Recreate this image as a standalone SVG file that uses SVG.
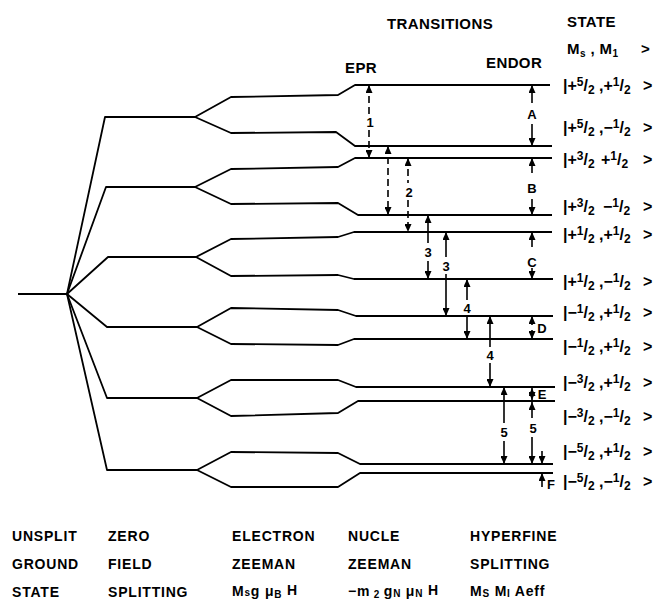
<svg xmlns="http://www.w3.org/2000/svg" width="661" height="599" viewBox="0 0 661 599">
<style>
.lv{fill:none;stroke:#000;stroke-width:1.8;stroke-linejoin:round}
.ar{stroke:#000;stroke-width:1.6;fill:none}
.ds{stroke-dasharray:7,4}
text{font-family:"Liberation Sans",Arial,sans-serif;font-weight:bold;fill:#000}
.hd{font-size:15px;letter-spacing:0.4px}
.bt{font-size:14px;letter-spacing:0.8px}
.st{font-size:16px}
.fn{font-size:12px}
.lb{font-size:13px;text-anchor:middle}
.sb{font-size:10px}
</style>
<defs>
<marker id="ah" viewBox="0 0 8 7" markerWidth="8" markerHeight="7" refX="8" refY="3.5" orient="auto-start-reverse" markerUnits="userSpaceOnUse"><path d="M0,0 L8,3.5 L0,7 z" fill="#000"/></marker>
</defs>
<rect width="661" height="599" fill="#fff"/>

<g id="level-unsplit"><path class="lv" d="M18,294 L67,294"/></g>

<g id="zfs-levels">
<g id="zfs-1"><path class="lv" d="M67,294 L105,117 L195,117"/></g>
<g id="zfs-2"><path class="lv" d="M67,294 L106,187 L195,187"/></g>
<g id="zfs-3"><path class="lv" d="M67,294 L108,257 L196,257"/></g>
<g id="zfs-4"><path class="lv" d="M67,294 L107,327 L197,327"/></g>
<g id="zfs-5"><path class="lv" d="M67,294 L107,398 L197,398"/></g>
<g id="zfs-6"><path class="lv" d="M67,294 L107,470 L197,470"/></g>
</g>

<g id="hyperfine-levels">
<g id="s-p52-p12"><path class="lv" d="M195,117 L231,97 L338,95 L355,85 L550,85"/></g>
<g id="s-p52-m12"><path class="lv" d="M195,117 L231,133 L336,132 L355,146 L552,146"/></g>
<g id="s-p32-p12"><path class="lv" d="M195,187 L231,169 L338,167 L355,158 L552,158"/></g>
<g id="s-p32-m12"><path class="lv" d="M195,187 L231,204 L338,203 L358,215 L552,215"/></g>
<g id="s-p12-p12"><path class="lv" d="M196,257 L231,239 L338,237 L354,232 L552,232"/></g>
<g id="s-p12-m12"><path class="lv" d="M196,257 L231,276 L338,275 L354,279 L553,279"/></g>
<g id="s-m12-p12"><path class="lv" d="M197,327 L231,308 L338,310 L356,316 L553,316"/></g>
<g id="s-m12-m12"><path class="lv" d="M197,327 L231,344 L338,345 L354,339 L553,339"/></g>
<g id="s-m32-p12"><path class="lv" d="M197,398 L231,380 L338,380 L356,387 L555,387"/></g>
<g id="s-m32-m12"><path class="lv" d="M197,398 L231,416 L338,413 L358,401 L555,401"/></g>
<g id="s-m52-p12"><path class="lv" d="M197,470 L231,452 L338,453 L360,464 L553,464"/></g>
<g id="s-m52-m12"><path class="lv" d="M197,470 L231,487 L338,487 L360,473 L553,473"/></g>
</g>

<g id="connectors">
<line class="ar ds" x1="369" y1="85" x2="369" y2="114" marker-start="url(#ah)"/>
<line class="ar ds" x1="369" y1="130" x2="369" y2="158" marker-end="url(#ah)"/>
<line class="ar ds" x1="388" y1="146" x2="388" y2="215" marker-start="url(#ah)" marker-end="url(#ah)"/>
<line class="ar ds" x1="408" y1="158" x2="408" y2="183" marker-start="url(#ah)"/>
<line class="ar ds" x1="408" y1="200" x2="408" y2="232" marker-end="url(#ah)"/>
<line class="ar" x1="428" y1="215" x2="428" y2="243" marker-start="url(#ah)"/>
<line class="ar" x1="428" y1="261" x2="428" y2="279" marker-end="url(#ah)"/>
<line class="ar" x1="446" y1="232" x2="446" y2="257" marker-start="url(#ah)"/>
<line class="ar" x1="446" y1="274" x2="446" y2="316" marker-end="url(#ah)"/>
<line class="ar" x1="467" y1="279" x2="467" y2="300" marker-start="url(#ah)"/>
<line class="ar" x1="467" y1="316" x2="467" y2="339" marker-end="url(#ah)"/>
<line class="ar" x1="490" y1="316" x2="490" y2="347" marker-start="url(#ah)"/>
<line class="ar" x1="490" y1="363" x2="490" y2="387" marker-end="url(#ah)"/>
<line class="ar" x1="504" y1="387" x2="504" y2="423" marker-start="url(#ah)"/>
<line class="ar" x1="504" y1="441" x2="504" y2="464" marker-end="url(#ah)"/>
<line class="ar" x1="532" y1="85" x2="532" y2="103" marker-start="url(#ah)"/>
<line class="ar" x1="532" y1="124" x2="532" y2="146" marker-end="url(#ah)"/>
<line class="ar" x1="532" y1="158" x2="532" y2="173" marker-start="url(#ah)"/>
<line class="ar" x1="532" y1="199" x2="532" y2="215" marker-end="url(#ah)"/>
<line class="ar" x1="532" y1="232" x2="532" y2="247" marker-start="url(#ah)"/>
<line class="ar" x1="532" y1="268" x2="532" y2="279" marker-end="url(#ah)"/>
<line class="ar" x1="532" y1="316" x2="532" y2="325" marker-start="url(#ah)"/>
<line class="ar" x1="532" y1="330" x2="532" y2="339" marker-end="url(#ah)"/>
<line class="ar" x1="532" y1="388" x2="532" y2="400" marker-start="url(#ah)" marker-end="url(#ah)"/>
<line class="ar" x1="532" y1="402" x2="532" y2="418" marker-start="url(#ah)"/>
<line class="ar" x1="532" y1="437" x2="532" y2="464" marker-end="url(#ah)"/>
<line class="ar" x1="542" y1="451" x2="542" y2="464" marker-end="url(#ah)"/>
<line class="ar" x1="542" y1="473" x2="542" y2="487" marker-start="url(#ah)"/>
</g>

<g id="transition-labels">
<text class="lb" x="370" y="127">1</text>
<text class="lb" x="409" y="197">2</text>
<text class="lb" x="428" y="257">3</text>
<text class="lb" x="446" y="271">3</text>
<text class="lb" x="467" y="313">4</text>
<text class="lb" x="490" y="360">4</text>
<text class="lb" x="504" y="437">5</text>
<text class="lb" x="532" y="119">A</text>
<text class="lb" x="532" y="193">B</text>
<text class="lb" x="532" y="267">C</text>
<text class="lb" x="542" y="333">D</text>
<text class="lb" x="542" y="399">E</text>
<text class="lb" x="533" y="433">5</text>
<text class="lb" x="551" y="489">F</text>
</g>

<g id="headers">
<text class="hd" x="387" y="29">TRANSITIONS</text>
<text class="hd" x="567" y="27">STATE</text>
<text class="hd" x="567" y="54">M<tspan class="sb" dy="3">s</tspan><tspan dy="-3"> , M</tspan><tspan class="sb" dy="3">1</tspan><tspan x="641" dy="-3">&gt;</tspan></text>
<text class="hd" x="345" y="73">EPR</text>
<text class="hd" x="486" y="68">ENDOR</text>
</g>

<g id="state-labels">
<text class="st" x="563" y="91">|+<tspan class="fn" dy="-5">5</tspan><tspan dy="5">/</tspan><tspan class="fn" dy="3">2</tspan><tspan x="599" dy="-3">,+</tspan><tspan class="fn" dy="-5">1</tspan><tspan dy="5">/</tspan><tspan class="fn" dy="3">2</tspan><tspan x="643" dy="-3">&gt;</tspan></text>
<text class="st" x="563" y="133">|+<tspan class="fn" dy="-5">5</tspan><tspan dy="5">/</tspan><tspan class="fn" dy="3">2</tspan><tspan x="599" dy="-3">,−</tspan><tspan class="fn" dy="-5">1</tspan><tspan dy="5">/</tspan><tspan class="fn" dy="3">2</tspan><tspan x="643" dy="-3">&gt;</tspan></text>
<text class="st" x="563" y="165">|+<tspan class="fn" dy="-5">3</tspan><tspan dy="5">/</tspan><tspan class="fn" dy="3">2</tspan><tspan x="601" dy="-3">+</tspan><tspan class="fn" dy="-5">1</tspan><tspan dy="5">/</tspan><tspan class="fn" dy="3">2</tspan><tspan x="643" dy="-3">&gt;</tspan></text>
<text class="st" x="563" y="212">|+<tspan class="fn" dy="-5">3</tspan><tspan dy="5">/</tspan><tspan class="fn" dy="3">2</tspan><tspan x="603" dy="-3">−</tspan><tspan class="fn" dy="-5">1</tspan><tspan dy="5">/</tspan><tspan class="fn" dy="3">2</tspan><tspan x="643" dy="-3">&gt;</tspan></text>
<text class="st" x="563" y="240">|+<tspan class="fn" dy="-5">1</tspan><tspan dy="5">/</tspan><tspan class="fn" dy="3">2</tspan><tspan x="599" dy="-3">,+</tspan><tspan class="fn" dy="-5">1</tspan><tspan dy="5">/</tspan><tspan class="fn" dy="3">2</tspan><tspan x="643" dy="-3">&gt;</tspan></text>
<text class="st" x="563" y="287">|+<tspan class="fn" dy="-5">1</tspan><tspan dy="5">/</tspan><tspan class="fn" dy="3">2</tspan><tspan x="599" dy="-3">,−</tspan><tspan class="fn" dy="-5">1</tspan><tspan dy="5">/</tspan><tspan class="fn" dy="3">2</tspan><tspan x="643" dy="-3">&gt;</tspan></text>
<text class="st" x="563" y="318">|−<tspan class="fn" dy="-5">1</tspan><tspan dy="5">/</tspan><tspan class="fn" dy="3">2</tspan><tspan x="599" dy="-3">,+</tspan><tspan class="fn" dy="-5">1</tspan><tspan dy="5">/</tspan><tspan class="fn" dy="3">2</tspan><tspan x="643" dy="-3">&gt;</tspan></text>
<text class="st" x="563" y="352">|−<tspan class="fn" dy="-5">1</tspan><tspan dy="5">/</tspan><tspan class="fn" dy="3">2</tspan><tspan x="599" dy="-3">,+</tspan><tspan class="fn" dy="-5">1</tspan><tspan dy="5">/</tspan><tspan class="fn" dy="3">2</tspan><tspan x="643" dy="-3">&gt;</tspan></text>
<text class="st" x="563" y="388">|−<tspan class="fn" dy="-5">3</tspan><tspan dy="5">/</tspan><tspan class="fn" dy="3">2</tspan><tspan x="599" dy="-3">,+</tspan><tspan class="fn" dy="-5">1</tspan><tspan dy="5">/</tspan><tspan class="fn" dy="3">2</tspan><tspan x="643" dy="-3">&gt;</tspan></text>
<text class="st" x="563" y="422">|−<tspan class="fn" dy="-5">3</tspan><tspan dy="5">/</tspan><tspan class="fn" dy="3">2</tspan><tspan x="599" dy="-3">,−</tspan><tspan class="fn" dy="-5">1</tspan><tspan dy="5">/</tspan><tspan class="fn" dy="3">2</tspan><tspan x="643" dy="-3">&gt;</tspan></text>
<text class="st" x="563" y="457">|−<tspan class="fn" dy="-5">5</tspan><tspan dy="5">/</tspan><tspan class="fn" dy="3">2</tspan><tspan x="599" dy="-3">,+</tspan><tspan class="fn" dy="-5">1</tspan><tspan dy="5">/</tspan><tspan class="fn" dy="3">2</tspan><tspan x="643" dy="-3">&gt;</tspan></text>
<text class="st" x="563" y="487">|−<tspan class="fn" dy="-5">5</tspan><tspan dy="5">/</tspan><tspan class="fn" dy="3">2</tspan><tspan x="599" dy="-3">,−</tspan><tspan class="fn" dy="-5">1</tspan><tspan dy="5">/</tspan><tspan class="fn" dy="3">2</tspan><tspan x="643" dy="-3">&gt;</tspan></text>
</g>

<g id="bottom-labels">
<text class="bt" x="12" y="541">UNSPLIT</text>
<text class="bt" x="12" y="569">GROUND</text>
<text class="bt" x="12" y="597">STATE</text>
<text class="bt" x="108" y="541">ZERO</text>
<text class="bt" x="108" y="569">FIELD</text>
<text class="bt" x="108" y="597">SPLITTING</text>
<text class="bt" x="232" y="541">ELECTRON</text>
<text class="bt" x="232" y="569">ZEEMAN</text>
<text class="bt" x="232" y="596">M<tspan class="sb">s</tspan>g μ<tspan class="sb" dy="2">B</tspan><tspan dy="-3"> H</tspan></text>
<text class="bt" x="348" y="541">NUCLE</text>
<text class="bt" x="348" y="569">ZEEMAN</text>
<text class="bt" x="348" y="596">−m<tspan class="sb" dy="2"> 2 </tspan><tspan dy="-2">g</tspan><tspan class="sb" dy="1">N</tspan><tspan dy="-1"> μ</tspan><tspan class="sb" dy="1">N</tspan><tspan dy="-2"> H</tspan></text>
<text class="bt" x="470" y="541">HYPERFINE</text>
<text class="bt" x="470" y="569">SPLITTING</text>
<text class="bt" x="470" y="596">M<tspan class="sb" dy="1">S</tspan><tspan dy="-1"> M</tspan><tspan class="sb" dy="1">I</tspan><tspan dy="-1"> Aeff</tspan></text>
</g>
</svg>
